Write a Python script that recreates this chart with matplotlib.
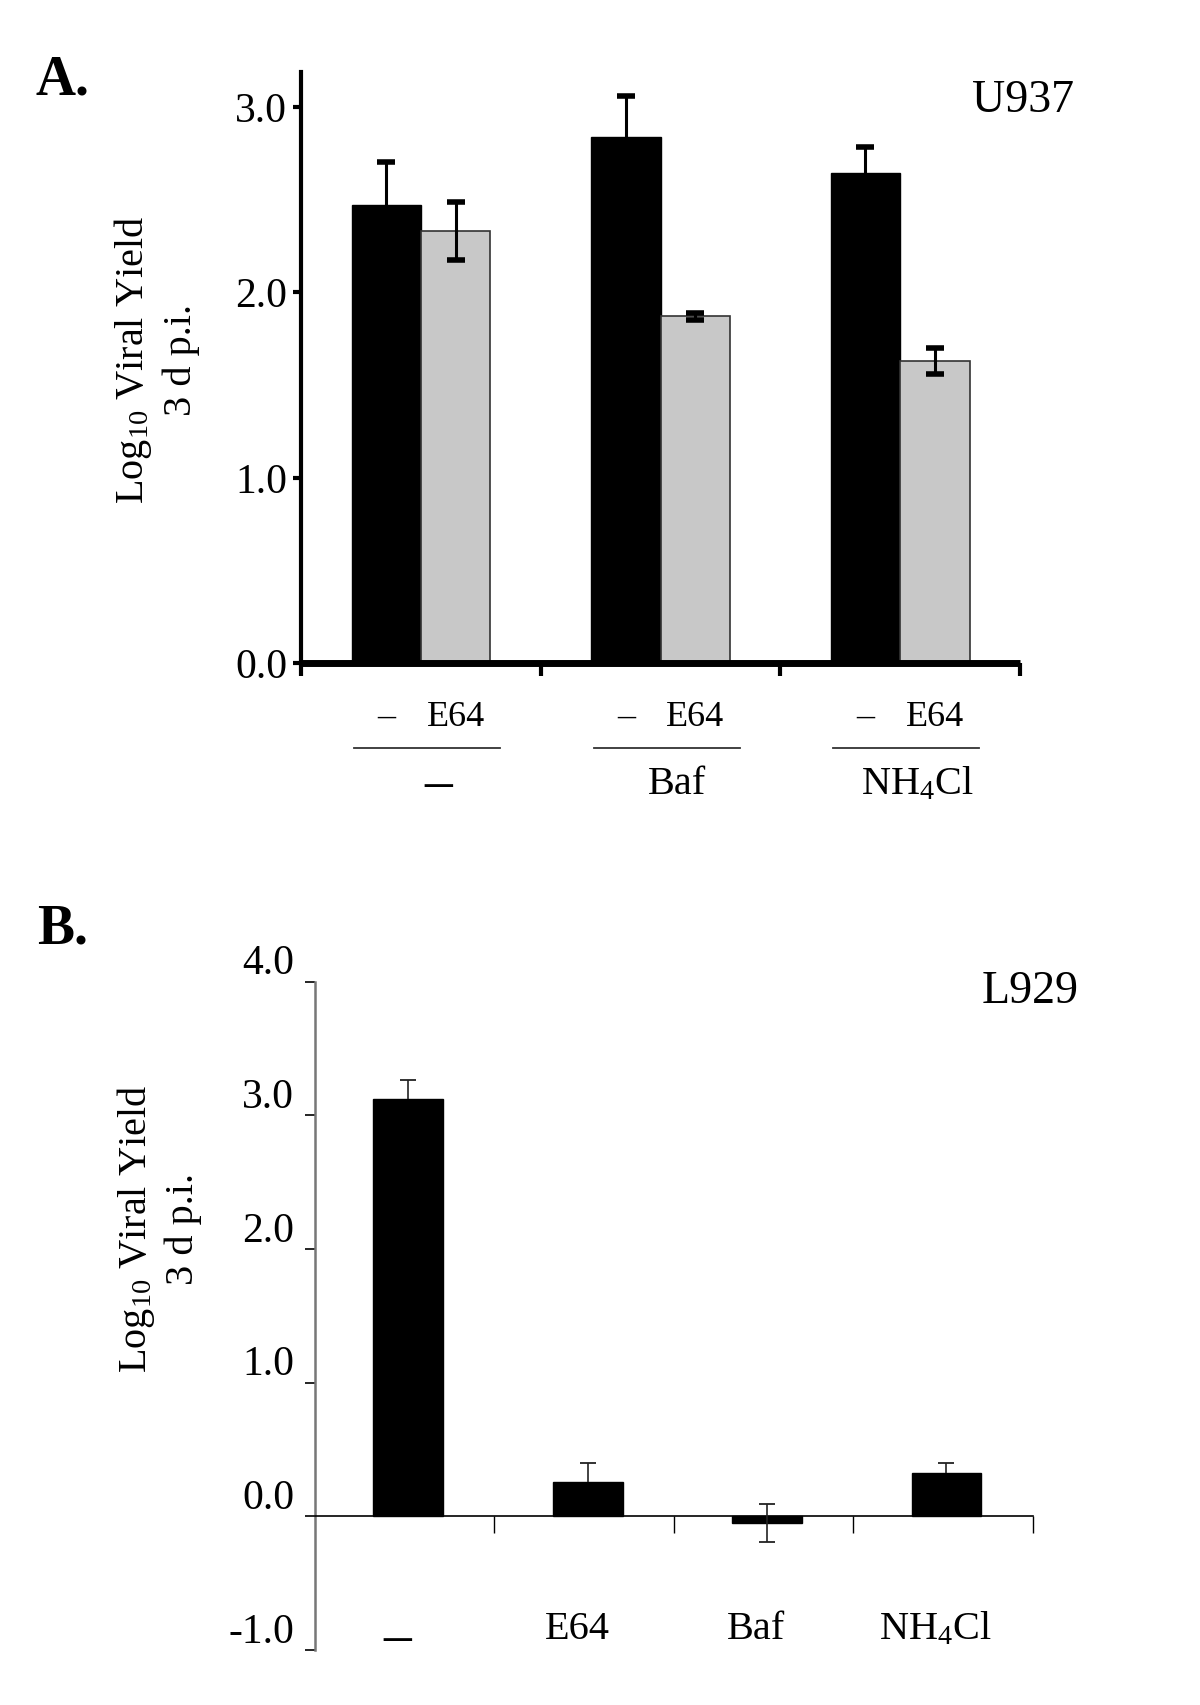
import numpy as np
import matplotlib.pyplot as plt
import matplotlib.transforms as mtransforms

plt.rcParams['font.family'] = ['Liberation Serif', 'DejaVu Serif']
plt.rcParams['mathtext.fontset'] = 'custom'
plt.rcParams['mathtext.rm'] = 'Liberation Serif'
plt.rcParams['mathtext.it'] = 'Liberation Serif:italic'

# panel A data (U937)
groupsA = ['–', 'Baf', 'NH$_4$Cl']
ctrlA = [2.47, 2.84, 2.645]
ctrlA_err = [0.23, 0.22, 0.14]
e64A = [2.33, 1.87, 1.63]
e64A_err = [0.155, 0.02, 0.07]

# panel B data (L929)
catsB = ['–', 'E64', 'Baf', 'NH$_4$Cl']
valsB = [3.12, 0.26, -0.05, 0.32]
errB_up = [0.14, 0.14, 0.14, 0.08]
errB_dn = [0, 0, 0.14, 0]

fs = 29
tfs = 30
fig = plt.figure(figsize=(12, 17.05), dpi=100)

# ---------------- panel A
ax = fig.add_axes([0.251, 0.611, 0.599, 0.347])
x = np.arange(len(groupsA))
w = 0.29
ctrl = np.array(ctrlA)
ax.bar(x - w/2, ctrlA, w, color='black', edgecolor='black', linewidth=1, zorder=2)
ax.bar(x + w/2, e64A, w, color='#c8c8c8', edgecolor='#333333', linewidth=1.2, zorder=2)
# upward-only error bars on the black bars
ax.errorbar(x - w/2, ctrlA, yerr=[np.zeros(3), ctrlA_err], fmt='none', ecolor='black',
            elinewidth=2.2, capsize=0, zorder=3)
ax.plot(x - w/2, ctrl + np.array(ctrlA_err), ls='none', marker='_', ms=13, mew=4,
        color='black', zorder=3)
ax.errorbar(x + w/2, e64A, yerr=e64A_err, fmt='none', ecolor='black',
            elinewidth=2.2, capsize=6.5, capthick=4, zorder=3)
ax.set_xlim(-0.5, 2.5)
ax.set_ylim(0, 3.19)
ax.set_yticks([0, 1, 2, 3])
ax.set_yticklabels(['0.0', '1.0', '2.0', '3.0'], fontsize=tfs)
ax.set_xticks([-0.5, 0.5, 1.5, 2.5])
ax.set_xticklabels([])
ax.tick_params(axis='y', direction='out', length=6, width=3, pad=4)
ax.tick_params(axis='x', direction='out', length=9, width=3)
for s in ['top', 'right']:
    ax.spines[s].set_visible(False)
ax.spines['left'].set_linewidth(3)
ax.spines['bottom'].set_linewidth(5)
ax.spines['bottom'].set_capstyle('butt')

for i in range(len(groupsA)):
    ax.text(i - w/2, -0.29, '–', ha='center', va='center', fontsize=26, clip_on=False)
    ax.text(i + w/2, -0.29, 'E64', ha='center', va='center', fontsize=26, clip_on=False)
    ax.plot([i - 0.28, i + 0.33], [-0.456, -0.456], color='#333333', lw=1.3, clip_on=False)
    lab_fs = 40 if groupsA[i] == '–' else fs
    ax.text(i + 0.07, -0.655, groupsA[i], ha='center', va='center', fontsize=lab_fs, clip_on=False)

ax.text(1.075, 0.95, 'U937', transform=ax.transAxes, ha='right', va='center', fontsize=33)
fig.text(0.052, 0.953, 'A.', fontsize=40, fontweight='bold', ha='center', va='center')
fig.text(0.111, 0.789, 'Log$_{10}$ Viral Yield', rotation=90, ha='center', va='center', fontsize=fs)
fig.text(0.151, 0.789, '3 d p.i.', rotation=90, ha='center', va='center', fontsize=fs)

# ---------------- panel B
bx = fig.add_axes([0.2625, 0.0323, 0.598, 0.392])
xb = np.arange(len(catsB))
wb = 0.39
vb = np.array(valsB)
bx.bar(xb + 0.02, valsB, wb, color='black', edgecolor='black', linewidth=1, zorder=2)
bx.errorbar(xb + 0.02, valsB, yerr=[errB_dn, errB_up], fmt='none', ecolor='#222222',
            elinewidth=1.2, capsize=0, zorder=3)
bx.plot(xb + 0.02, vb + np.array(errB_up), ls='none', marker='_', ms=11, mew=1.3,
        color='#222222', zorder=3)
has_dn = np.array(errB_dn) > 0
bx.plot((xb + 0.02)[has_dn], (vb - np.array(errB_dn))[has_dn], ls='none', marker='_',
        ms=11, mew=1.3, color='#222222', zorder=3)
bx.set_xlim(-0.5, 3.5)
bx.set_ylim(-1.0, 4.0)
bx.set_yticks([-1, 0, 1, 2, 3, 4])
bx.set_yticklabels(['-1.0', '0.0', '1.0', '2.0', '3.0', '4.0'], fontsize=tfs)
bx.set_xticks([0.5, 1.5, 2.5, 3.5])
bx.set_xticklabels([])
bx.tick_params(axis='y', direction='out', length=7, width=1.2, pad=8)
bx.tick_params(axis='x', direction='out', length=12, width=1)
for s in ['top', 'right']:
    bx.spines[s].set_visible(False)
bx.spines['left'].set_color('#777777')
bx.spines['left'].set_linewidth(1.8)
bx.spines['bottom'].set_position(('data', 0))
bx.spines['bottom'].set_linewidth(1.2)
offset = mtransforms.ScaledTranslation(0, 0.22, fig.dpi_scale_trans)
for lbl in bx.get_yticklabels():
    lbl.set_transform(lbl.get_transform() + offset)

for i, c in enumerate(catsB):
    if c == '–':
        bx.text(i - 0.04, -0.92, c, ha='center', va='center', fontsize=40, clip_on=False)
    else:
        bx.text(i - 0.04, -0.85, c, ha='center', va='center', fontsize=fs, clip_on=False)

bx.text(1.064, 0.985, 'L929', transform=bx.transAxes, ha='right', va='center', fontsize=33)
fig.text(0.052, 0.455, 'B.', fontsize=40, fontweight='bold', ha='center', va='center')
fig.text(0.113, 0.279, 'Log$_{10}$ Viral Yield', rotation=90, ha='center', va='center', fontsize=fs)
fig.text(0.153, 0.279, '3 d p.i.', rotation=90, ha='center', va='center', fontsize=fs)

fig.savefig('out.png', dpi=100)
